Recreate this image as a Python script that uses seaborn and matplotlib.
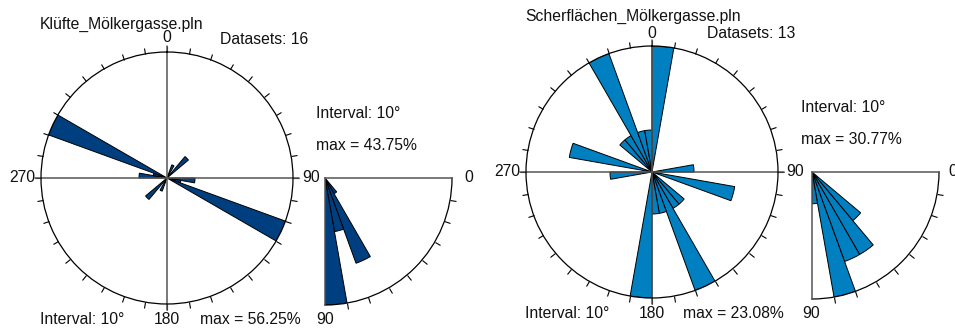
import numpy as np
import pandas as pd
import matplotlib
matplotlib.use("Agg")
import matplotlib.pyplot as plt
import seaborn as sns

# Strike classes of 10° from 0° to 180° (axial data, drawn in both directions)
strike_bins = np.arange(0, 180, 10)
kluft_strike = [0, 0, 1, 0, 2, 0, 0, 0, 0, 2, 1, 9, 0, 0, 0, 0, 0, 0]
scher_strike = [3, 0, 0, 0, 0, 0, 0, 0, 1, 0, 2, 0, 0, 1, 1, 3, 1, 1]
# Dip classes of 10° from 0° to 90°
dip_bins = np.arange(0, 90, 10)
kluft_dip = [0, 0, 0, 0, 0, 1, 5, 3, 7]
scher_dip = [0, 0, 0, 0, 2, 3, 3, 4, 1]
kluft_n = 16
scher_n = 13
kluft_name = "Klüfte_Mölkergasse.pln"
scher_name = "Scherflächen_Mölkergasse.pln"
kluft_color = "#003f7f"
scher_color = "#0080c0"

sns.set_theme(style="white")
plt.rcParams["font.family"] = ["Liberation Sans", "DejaVu Sans"]

W, H = 955, 329
fig = plt.figure(figsize=(W / 100, H / 100), dpi=100)
FS = 11.3
GREY = "#555555"


def polar_axes(cx, cy, r, quarter=False):
    if quarter:
        rect = [cx / W, (H - cy - r) / H, r / W, r / H]
    else:
        rect = [(cx - r) / W, (H - cy - r) / H, 2 * r / W, 2 * r / H]
    return fig.add_axes(rect, projection="polar")


def label(x, y, s, ha="left"):
    fig.text(x / W, 1 - y / H, s, ha=ha, va="center", fontsize=FS, color="#111111")


def style_axes(ax, ticks_deg):
    ax.grid(False)
    ax.set_yticks([])
    ax.set_xlabel("")
    ax.set_ylabel("")
    ax.set_facecolor("white")
    ax.set_xticks(np.deg2rad(ticks_deg))
    ax.set_xticklabels([])
    # outer-circle tick marks every 10°
    ax.tick_params(axis="x", which="major", bottom=False, top=True,
                   direction="out", length=4.5, width=0.8,
                   color="black", pad=0)
    ax.spines["polar"].set_linewidth(0.9)
    ax.spines["polar"].set_color("black")


def rose(ax, counts, n, color):
    pct = np.asarray(counts, dtype=float) / n * 100
    df = pd.DataFrame({
        "theta": np.deg2rad(np.concatenate([strike_bins + 5, strike_bins + 185])),
        "pct": np.concatenate([pct, pct]),
    })
    edges = [float(e) for e in np.deg2rad(np.arange(0, 361, 10))]
    sns.histplot(data=df, x="theta", weights="pct", bins=edges, ax=ax,
                 color=color, edgecolor="black", linewidth=0.7, alpha=1)
    ax.set_theta_zero_location("N")
    ax.set_theta_direction(-1)
    ax.set_xlim(0, 2 * np.pi)
    rmax = pct.max()
    ax.set_ylim(0, rmax)
    style_axes(ax, np.arange(0, 360, 10))
    for a in (0, 90, 180, 270):
        ax.plot([np.deg2rad(a)] * 2, [0, rmax * 1.05], color=GREY, lw=1.1,
                clip_on=False, zorder=1)
    return rmax


def dip(ax, counts, n, color):
    pct = np.asarray(counts, dtype=float) / n * 100
    df = pd.DataFrame({"theta": np.deg2rad(dip_bins + 5), "pct": pct})
    edges = [float(e) for e in np.deg2rad(np.arange(0, 91, 10))]
    sns.histplot(data=df, x="theta", weights="pct", bins=edges, ax=ax,
                 color=color, edgecolor="black", linewidth=0.7, alpha=1)
    ax.set_theta_zero_location("E")
    ax.set_theta_direction(-1)
    ax.set_thetamin(0)
    ax.set_thetamax(90)
    ax.set_ylim(0, pct.max())
    style_axes(ax, np.arange(10, 90, 10))
    for sp in ("start", "end"):
        ax.spines[sp].set_color(GREY)
        ax.spines[sp].set_linewidth(1.1)
    return pct.max()


# ---- joints (left) ----
ax1 = polar_axes(167, 178, 126)
m1 = rose(ax1, kluft_strike, kluft_n, kluft_color)
ax2 = polar_axes(325, 178, 127, quarter=True)
d1 = dip(ax2, kluft_dip, kluft_n, kluft_color)

label(40, 24, kluft_name)
label(167, 38, "0", ha="center")
label(220, 40, f"Datasets: {kluft_n}")
label(35, 178, "270", ha="right")
label(302, 178, "90")
label(40, 319, "Interval: 10°")
label(167, 319, "180", ha="center")
label(200, 319, f"max = {m1:.2f}%")
label(316, 113, "Interval: 10°")
label(316, 146, f"max = {d1:.2f}%")
label(464, 178, "0")
label(316, 319, "90")

# ---- shear planes (right) ----
ax3 = polar_axes(652, 172, 126)
m2 = rose(ax3, scher_strike, scher_n, scher_color)
ax4 = polar_axes(812, 172, 127, quarter=True)
d2 = dip(ax4, scher_dip, scher_n, scher_color)

label(525, 16, scher_name)
label(652, 33, "0", ha="center")
label(707, 33, f"Datasets: {scher_n}")
label(520, 172, "270", ha="right")
label(786, 172, "90")
label(525, 313, "Interval: 10°")
label(652, 313, "180", ha="center")
label(683, 313, f"max = {m2:.2f}%")
label(801, 107, "Interval: 10°")
label(801, 140, f"max = {d2:.2f}%")
label(948, 172, "0")
label(802, 313, "90")

fig.savefig("out.png", dpi=100, facecolor="white")
